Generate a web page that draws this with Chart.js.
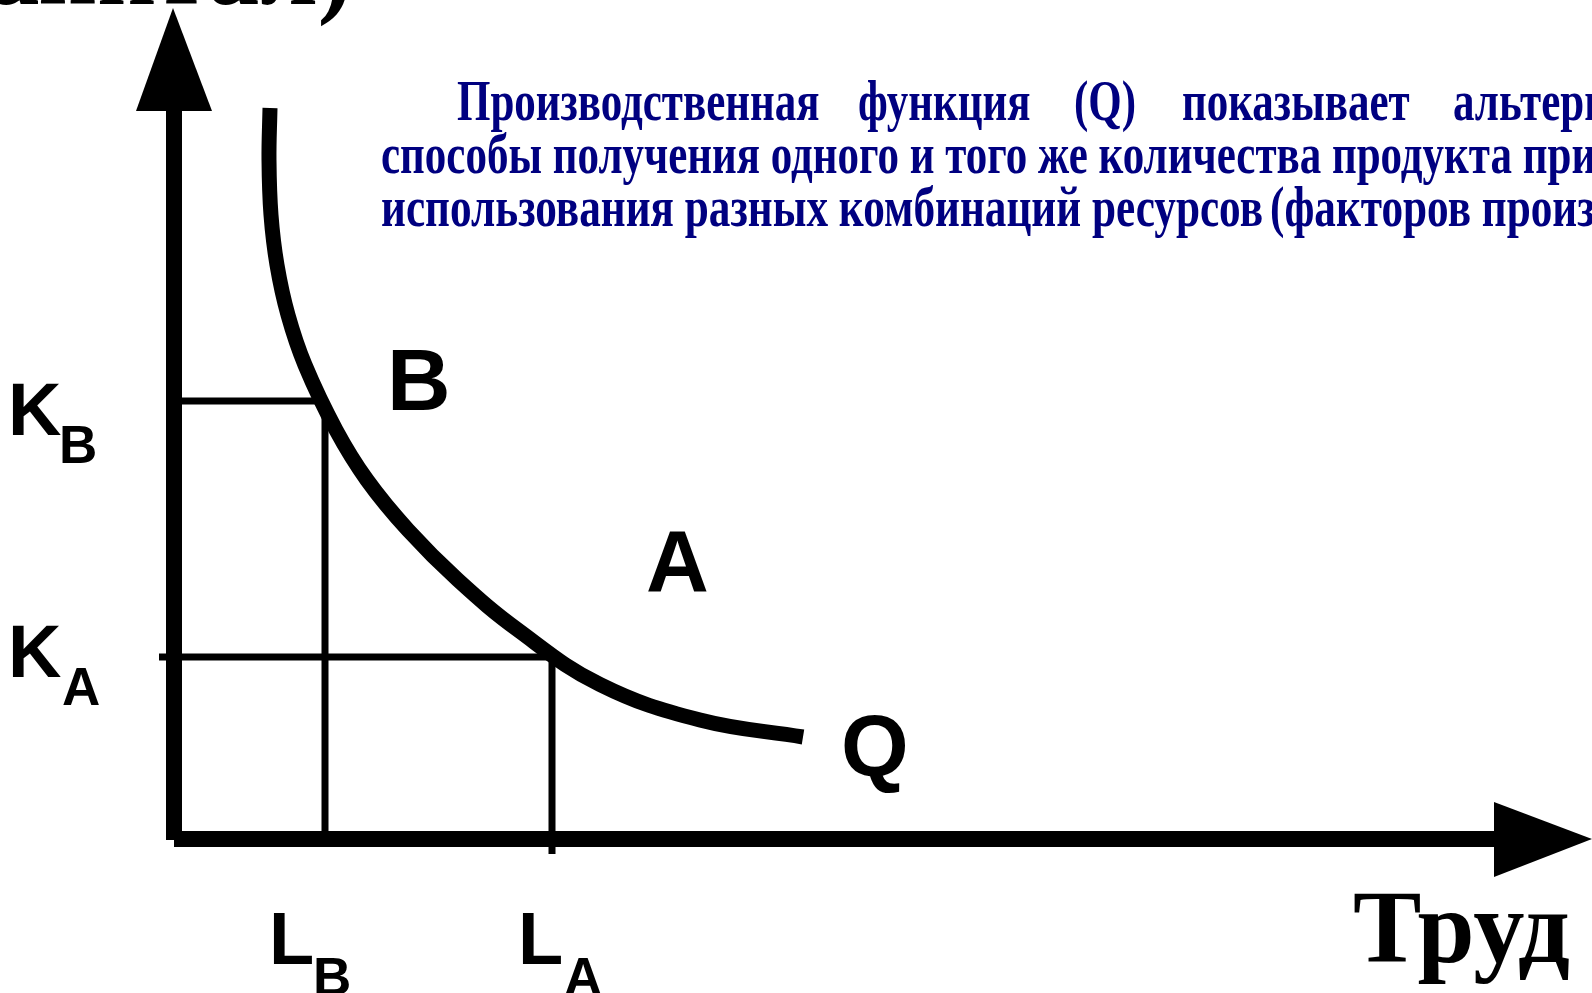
<!DOCTYPE html>
<html lang="ru">
<head>
  <meta charset="UTF-8" />
  <title>Производственная функция (изокванта)</title>
  <style>
    html, body { margin: 0; padding: 0; background: #fff; overflow: hidden; }
    #wrap { width: 1592px; height: 993px; }
  </style>
</head>
<body>
  <div id="wrap"><canvas id="isoquant" width="1592" height="993"></canvas></div>

  <script src="https://cdn.jsdelivr.net/npm/chart.js"></script>
  <script>
    // изокванта Q (x - труд, y - капитал)
    const qLabour  = [0.96, 0.95, 0.97, 1.03, 1.14, 1.31, 1.62, 1.93, 2.34, 2.84, 3.44, 4.26, 5.26, 6.29];
    const qCapital = [7.31, 6.79, 6.24, 5.74, 5.24, 4.74, 4.09, 3.59, 3.09, 2.59, 2.09, 1.545, 1.19, 1.02];

    // две комбинации ресурсов: B и A
    const comboNames   = ['B', 'A'];
    const comboLabour  = [1.51, 3.78];
    const comboCapital = [4.38, 1.82];

    // концы осей (стрелки)
    const labourAxisEnd  = 14.18;
    const capitalAxisEnd = 8.31;

    const ctx = document.getElementById('isoquant').getContext('2d');

    const curve = qLabour.map((v, i) => ({ x: v, y: qCapital[i] }));

    // линии к осям: у B только до оси, у A чуть заходят за ось
    const guides = comboNames.map((name, i) => {
      const over = name === 'A' ? 0.15 : 0;
      return {
        label: 'guide ' + name,
        data: [
          { x: -over, y: comboCapital[i] },
          { x: comboLabour[i], y: comboCapital[i] },
          { x: comboLabour[i], y: -over }
        ],
        showLine: true,
        borderColor: '#000',
        borderWidth: 7,
        borderJoinStyle: 'bevel',
        pointRadius: 0,
        tension: 0
      };
    });

    const axesPlugin = {
      id: 'axes',
      afterDatasetsDraw(chart) {
        const c = chart.ctx;
        const { x, y } = chart.scales;
        const x0 = x.getPixelForValue(0), y0 = y.getPixelForValue(0);
        const yTop = y.getPixelForValue(capitalAxisEnd);
        const xEnd = x.getPixelForValue(labourAxisEnd);
        c.save();
        c.fillStyle = '#000';
        // ось капитала
        c.fillRect(x0 - 8, yTop + 103, 16, y0 + 1 - (yTop + 103));
        c.beginPath();
        c.moveTo(x0 - 38, yTop + 103);
        c.lineTo(x0 - 1, yTop);
        c.lineTo(x0 + 38, yTop + 103);
        c.closePath();
        c.fill();
        // ось труда
        c.fillRect(x0, y0 - 8, xEnd - 98 - x0, 16);
        c.beginPath();
        c.moveTo(xEnd - 98, y0 - 37);
        c.lineTo(xEnd, y0);
        c.lineTo(xEnd - 98, y0 + 38);
        c.closePath();
        c.fill();
        c.restore();
      }
    };

    // сжатый по ширине текст
    function squeezed(c, text, px, py, sx, align) {
      c.save();
      c.translate(px, py);
      c.scale(sx, 1);
      c.textAlign = align || 'left';
      c.fillText(text, 0, 0);
      c.restore();
    }

    const labelsPlugin = {
      id: 'labels',
      afterDraw(chart) {
        const c = chart.ctx;
        c.save();
        c.textBaseline = 'alphabetic';
        c.fillStyle = '#000';

        const sans = [
          ['K', 8, 435, 74], ['B', 59, 463, 53],
          ['K', 8, 677, 74], ['A', 62, 705, 53],
          ['L', 269, 964, 74], ['B', 313, 995, 53],
          ['L', 518, 964, 74], ['A', 564, 995, 53],
          ['B', 387, 410, 88],
          ['A', 646, 591, 87],
          ['Q', 841, 776, 87]
        ];
        sans.forEach(([t, px, py, size]) => {
          c.font = 'bold ' + size + 'px "Liberation Sans", Arial, sans-serif';
          c.fillText(t, px, py);
        });

        // подписи осей
        c.font = 'bold 104px "Liberation Serif", "Times New Roman", serif';
        const sTrud = 217 / c.measureText('Труд').width;
        squeezed(c, 'Труд', 1353, 962, sTrud);
        squeezed(c, '(Капитал)', 352, 4, sTrud, 'right');

        // пояснение
        c.fillStyle = '#000080';
        c.font = 'bold 56px "Liberation Serif", "Times New Roman", serif';
        const s2 = 1131 / c.measureText('способы получения одного и того же количества продукта').width;
        const words1 = ['Производственная', 'функция', '(Q)', 'показывает', 'альтернативные'];
        const wordX1 = [457, 858, 1074, 1182, 1453];
        words1.forEach((w, i) => squeezed(c, w, wordX1[i], 120, s2));
        squeezed(c, 'способы получения одного и того же количества продукта при', 381, 173, s2);
        const part3 = 'использования разных комбинаций ресурсов';
        const s3 = 882 / c.measureText(part3).width;
        squeezed(c, part3, 381, 226, s3);
        squeezed(c, '(факторов производства).', 1270, 226, s3);
        c.restore();
      }
    };

    new Chart(ctx, {
      type: 'scatter',
      data: {
        datasets: [
          {
            label: 'Q',
            data: curve,
            showLine: true,
            borderColor: '#000',
            borderWidth: 15,
            borderCapStyle: 'butt',
            pointRadius: 0,
            tension: 0.4
          },
          ...guides
        ]
      },
      options: {
        responsive: false,
        animation: false,
        devicePixelRatio: 1,
        layout: { padding: 0 },
        scales: {
          x: { type: 'linear', display: false, min: -1.74, max: 14.18 },
          y: { type: 'linear', display: false, min: -1.54, max: 8.39 }
        },
        plugins: {
          legend: { display: false },
          tooltip: { enabled: false }
        }
      },
      plugins: [axesPlugin, labelsPlugin]
    });
  </script>
</body>
</html>
